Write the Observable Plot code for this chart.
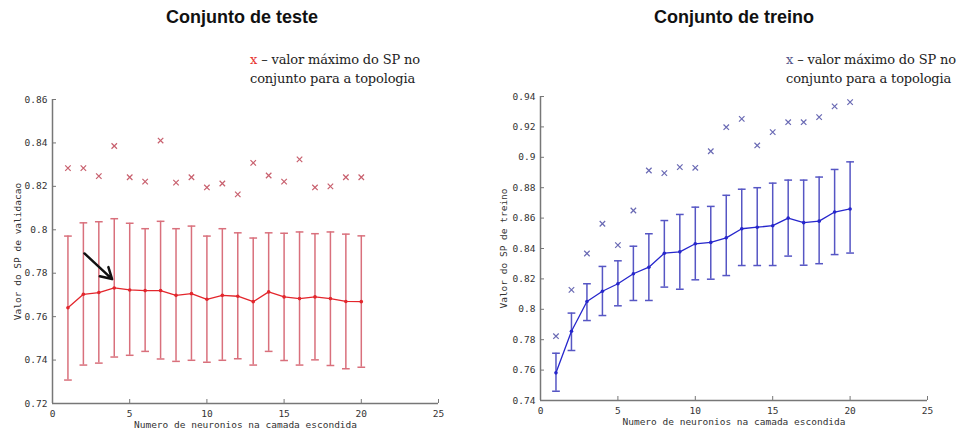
<!DOCTYPE html>
<html><head><meta charset="utf-8">
<script src="https://cdn.jsdelivr.net/npm/d3@7"></script>
<script src="https://cdn.jsdelivr.net/npm/@observablehq/plot@0.6"></script>
<style>
body{margin:0;background:#fff;width:957px;height:434px;position:relative;overflow:hidden;font-family:"Liberation Sans",Arial,sans-serif}
.title{position:absolute;top:7px;font-weight:bold;font-size:18px;color:#111;transform:translateX(-50%);white-space:nowrap}
.legend{position:absolute;font-family:"DejaVu Serif",serif;font-size:13px;line-height:19px;color:#222;white-space:nowrap;letter-spacing:-0.15px}
.panel{position:absolute;top:80px}
</style></head><body>
<div class="title" style="left:242px">Conjunto de teste</div>
<div class="title" style="left:734px">Conjunto de treino</div>
<div class="legend" style="left:250px;top:50px"><span style="color:#e8322e">x</span> – valor máximo do SP no<br>conjunto para a topologia</div>
<div class="legend" style="left:786px;top:50px"><span style="color:#55558a">x</span> – valor máximo do SP no<br>conjunto para a topologia</div>
<div id="left" class="panel" style="left:0"></div>
<div id="right" class="panel" style="left:478px"></div>
<script>
const neuronios = [1,2,3,4,5,6,7,8,9,10,11,12,13,14,15,16,17,18,19,20];
const xTicks = [0,5,10,15,20,25];

// Conjunto de teste (validação)
const testeMedia = [0.7641,0.7703,0.7711,0.7732,0.7723,0.7720,0.7720,0.7698,0.7706,0.7680,0.7698,0.7694,0.7669,0.7714,0.7691,0.7683,0.7691,0.7683,0.7670,0.7669];
const testeSup   = [0.7971,0.8032,0.8037,0.8051,0.8030,0.8005,0.8039,0.8005,0.8017,0.7971,0.8005,0.7986,0.7962,0.7986,0.7984,0.7990,0.7982,0.7990,0.7980,0.7972];
const testeInf   = [0.7308,0.7377,0.7386,0.7414,0.7422,0.7440,0.7405,0.7394,0.7399,0.7390,0.7399,0.7406,0.7377,0.7440,0.7398,0.7377,0.7401,0.7375,0.7360,0.7367];
const testeMax   = [0.8284,0.8284,0.8247,0.8386,0.8242,0.8222,0.8411,0.8217,0.8242,0.8195,0.8213,0.8163,0.8308,0.8250,0.8222,0.8324,0.8195,0.8200,0.8242,0.8242];
const testeYTicks = [0.72,0.74,0.76,0.78,0.8,0.82,0.84,0.86];
const testeArrow = [{x1:2.07, y1:0.7891, x2:3.86, y2:0.7773}];

// Conjunto de treino
const treinoMedia = [0.7582,0.7856,0.8051,0.8119,0.8168,0.8234,0.8277,0.8369,0.8378,0.8431,0.8440,0.8470,0.8530,0.8540,0.8550,0.8600,0.8570,0.8580,0.8640,0.8660];
const treinoSup   = [0.7711,0.7975,0.8168,0.8282,0.8319,0.8415,0.8497,0.8584,0.8624,0.8672,0.8677,0.8750,0.8790,0.8800,0.8830,0.8850,0.8850,0.8870,0.8920,0.8970];
const treinoInf   = [0.7461,0.7729,0.7926,0.7959,0.8023,0.8058,0.8058,0.8146,0.8132,0.8194,0.8198,0.8222,0.8288,0.8288,0.8288,0.8350,0.8290,0.8300,0.8360,0.8370];
const treinoMax   = [0.7823,0.8128,0.8367,0.8563,0.8422,0.8650,0.8913,0.8896,0.8935,0.8931,0.9040,0.9198,0.9253,0.9078,0.9166,0.9231,0.9231,0.9264,0.9335,0.9363];
const treinoYTicks = [0.74,0.76,0.78,0.8,0.82,0.84,0.86,0.88,0.9,0.92,0.94];

function panel(o) {
  const data = neuronios.map((n,i)=>({n, m:o.media[i], hi:o.sup[i], lo:o.inf[i], mx:o.max[i]}));
  const fmt = d => String(d);
  const c = o.colors;
  return Plot.plot({
    width: o.width, height: 354,
    marginTop: o.mt, marginBottom: o.mb, marginLeft: o.ml, marginRight: o.mr,
    style: {fontFamily: "'DejaVu Sans Mono', monospace", fontSize: "9.5px", color: "#333", background: "transparent", overflow: "visible"},
    x: {domain: [0,25]},
    y: {domain: o.yDomain},
    marks: [
      Plot.axisX({ticks: xTicks, tickSize: -4, tickPadding: 11, stroke: "#777", fill: "#333",
        label: "Numero de neuronios na camada escondida", labelArrow: false, labelAnchor: "center", labelOffset: 24}),
      Plot.axisY({ticks: o.yTicks, tickFormat: fmt, tickSize: -4, tickPadding: 9, stroke: "#777", fill: "#333",
        label: o.ylabel, labelArrow: false, labelAnchor: "center", labelOffset: o.labelOffset}),
      Plot.ruleX([0], {stroke: "#777", strokeWidth: 1.5}),
      Plot.ruleY([o.yDomain[0]], {stroke: "#777", strokeWidth: 1.5}),
      Plot.ruleX(data, {x: "n", y1: "lo", y2: "hi", stroke: c.bar, strokeWidth: 1.5}),
      Plot.link(data, {x1: d => d.n - 0.25, x2: d => d.n + 0.25, y1: "hi", y2: "hi", stroke: c.bar, strokeWidth: 1.5}),
      Plot.link(data, {x1: d => d.n - 0.25, x2: d => d.n + 0.25, y1: "lo", y2: "lo", stroke: c.bar, strokeWidth: 1.5}),
      Plot.line(data, {x: "n", y: "m", stroke: c.line, strokeWidth: 1.3}),
      Plot.dot(data, {x: "n", y: "m", r: 1.8, fill: c.line}),
      Plot.dot(data, {x: "n", y: "mx", symbol: "times", r: 2.6, stroke: c.max, strokeWidth: 1.2}),
      ...(o.extra || [])
    ]
  });
}

document.getElementById("left").append(panel({
  media: testeMedia, sup: testeSup, inf: testeInf, max: testeMax,
  yDomain: [0.72, 0.86], yTicks: testeYTicks, ylabel: "Valor do SP de validacao",
  width: 478, mt: 19, mb: 31, ml: 52, mr: 40, labelOffset: 38,
  colors: {bar: "#d9707c", line: "#e3262c", max: "#c8606e"},
  extra: [Plot.arrow(testeArrow, {x1: "x1", y1: "y1", x2: "x2", y2: "y2", stroke: "#111", strokeWidth: 2.5, headLength: 11})]
}));
document.getElementById("right").append(panel({
  media: treinoMedia, sup: treinoSup, inf: treinoInf, max: treinoMax,
  yDomain: [0.74, 0.94], yTicks: treinoYTicks, ylabel: "Valor do SP de treino",
  width: 479, mt: 16, mb: 34, ml: 62, mr: 30, labelOffset: 40,
  colors: {bar: "#5656c4", line: "#2626cc", max: "#6a6ab4"}
}));
</script>
</body></html>
